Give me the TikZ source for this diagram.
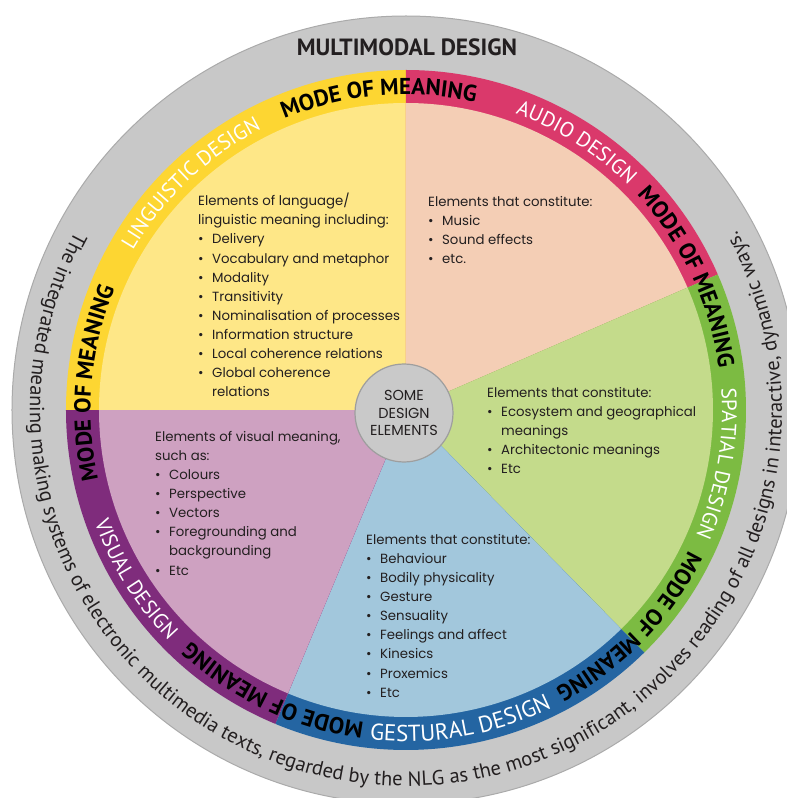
\documentclass[tikz,border=0pt]{standalone}
\usepackage{fontspec}
\setmainfont{Poppins}
\newfontfamily\arcfont{PT Sans}
\usetikzlibrary{decorations.text}

\definecolor{rimgray}{HTML}{C8C8C8}
\definecolor{rimedge}{HTML}{AAAAAA}
\definecolor{coregray}{HTML}{C9C9C9}
\definecolor{coreedge}{HTML}{9E9E9E}
\definecolor{bodyink}{HTML}{231F20}
\definecolor{lingband}{HTML}{FDD632}
\definecolor{lingpale}{HTML}{FEE787}
\definecolor{audioband}{HTML}{DA396B}
\definecolor{audiopale}{HTML}{F4CEB5}
\definecolor{spatialband}{HTML}{7CBB42}
\definecolor{spatialpale}{HTML}{C4DB8B}
\definecolor{gestband}{HTML}{2465A2}
\definecolor{gestpale}{HTML}{A2C7DC}
\definecolor{visualband}{HTML}{7F2C7C}
\definecolor{visualpale}{HTML}{CEA1C1}

\newcommand\bodyfont{\fontsize{13.3}{19.1}\selectfont}
\newcommand\corefont{\fontsize{14.5}{17.5}\selectfont}
\newcommand\titlefont{\arcfont\bfseries\fontsize{23.5}{23.5}\selectfont}
\newcommand\modefont{\arcfont\bfseries\fontsize{23}{23}\selectfont}
\newcommand\designfont{\arcfont\fontsize{21}{21}\selectfont}
\newcommand\gestfont{\arcfont\fontsize{23}{23}\selectfont}
\newcommand\rimfont{\arcfont\fontsize{20.5}{20.5}\selectfont}
\newcommand\itm{\makebox[14pt][l]{\textbullet}}
\newcommand\ind{\hspace*{14pt}}

\begin{document}
\begin{tikzpicture}[x=1pt,y=1pt,
  modelabel/.style={decorate,decoration={text along path,text align=center,text color=black,text={|\modefont|MODE OF MEANING}}},
  designlabel/.style={decorate,decoration={text along path,text align=center,text color=white,text={|\designfont|#1}}},
  elements/.style={anchor=north west,align=left,inner sep=0pt,font=\bodyfont,text=bodyink}]

\useasboundingbox (-406,-388) rectangle (381,410);

% outer rim
\fill[rimgray,draw=rimedge,line width=1pt] (0,0) circle[radius=394];

% bands and sectors
\fill[lingband] (0,0) -- (90:340) arc[start angle=90,end angle=180,radius=340] -- cycle;
\fill[lingpale] (0,0) -- (90:307) arc[start angle=90,end angle=180,radius=307] -- cycle;
\fill[audioband] (0,0) -- (23.5:340) arc[start angle=23.5,end angle=90,radius=340] -- cycle;
\fill[audiopale] (0,0) -- (23.5:307) arc[start angle=23.5,end angle=90,radius=307] -- cycle;
\fill[spatialband] (0,0) -- (-45.5:340) arc[start angle=-45.5,end angle=23.5,radius=340] -- cycle;
\fill[spatialpale] (0,0) -- (-45.5:307) arc[start angle=-45.5,end angle=23.5,radius=307] -- cycle;
\fill[gestband] (0,0) -- (-112.6:340) arc[start angle=-112.6,end angle=-45.5,radius=340] -- cycle;
\fill[gestpale] (0,0) -- (-112.6:307) arc[start angle=-112.6,end angle=-45.5,radius=307] -- cycle;
\fill[visualband] (0,0) -- (180:340) arc[start angle=180,end angle=247.4,radius=340] -- cycle;
\fill[visualpale] (0,0) -- (180:307) arc[start angle=180,end angle=247.4,radius=307] -- cycle;

% band labels
\path[modelabel] (125:315.5) arc[start angle=125,end angle=65,radius=315.5];
\path[modelabel] (205:315.5) arc[start angle=205,end angle=145,radius=315.5];
\path[modelabel] (55.3:315.5) arc[start angle=55.3,end angle=-4.7,radius=315.5];
\path[modelabel] (-14.1:315.5) arc[start angle=-14.1,end angle=-74.1,radius=315.5];
\path[modelabel] (-85.3:315.5) arc[start angle=-85.3,end angle=-145.3,radius=315.5];
\path[designlabel={LINGUISTIC DESIGN}] (163.5:316) arc[start angle=163.5,end angle=103.5,radius=316];
\path[designlabel={AUDIO DESIGN}] (87.5:316) arc[start angle=87.5,end angle=27.5,radius=316];
\path[designlabel={SPATIAL DESIGN}] (20.3:316) arc[start angle=20.3,end angle=-39.7,radius=316];
\path[decorate,decoration={text along path,text align=center,text color=white,text={|\gestfont|GESTURAL DESIGN}}] (-110.1:331.5) arc[start angle=-110.1,end angle=-50.1,radius=331.5];
\path[designlabel={VISUAL DESIGN}] (182:331) arc[start angle=182,end angle=242,radius=331];

% rim text
\path[decorate,decoration={text along path,text align=center,text color=bodyink,text={|\rimfont|The integrated meaning making systems of electronic multimedia texts, regarded by the NLG as the most significant, involves reading of all designs in interactive, dynamic ways.}}] (145:376) arc[start angle=145,end angle=395,radius=376];

\node[font=\titlefont,text=bodyink] (title) at (1,363) {MULTIMODAL DESIGN};

% elements
\node[elements] (ling) at (-208,217) {Elements of language/\\linguistic meaning including:\\\itm Delivery\\\itm Vocabulary and metaphor\\\itm Modality\\\itm Transitivity\\\itm Nominalisation of processes\\\itm Information structure\\\itm Local coherence relations\\\itm Global coherence\\\ind relations};
\node[elements] (audio) at (22,214) {Elements that constitute:\\\itm Music\\\itm Sound effects\\\itm etc.};
\node[elements] (spatial) at (81,23) {Elements that constitute:\\\itm Ecosystem and geographical\\\ind meanings\\\itm Architectonic meanings\\\itm Etc};
\node[elements] (visual) at (-251,-21) {Elements of visual meaning,\\such as:\\\itm Colours\\\itm Perspective\\\itm Vectors\\\itm Foregrounding and\\\ind backgrounding\\\itm Etc};
\node[elements] (gest) at (-40,-124) {Elements that constitute:\\\itm Behaviour\\\itm Bodily physicality\\\itm Gesture\\\itm Sensuality\\\itm Feelings and affect\\\itm Kinesics\\\itm Proxemics\\\itm Etc};

\node[circle,minimum size=98pt,inner sep=0pt,fill=coregray,draw=coreedge,line width=1.2pt,align=center,font=\corefont,text=bodyink] (core) at (-2,-3) {SOME\\DESIGN\\ELEMENTS};
\end{tikzpicture}
\end{document}
